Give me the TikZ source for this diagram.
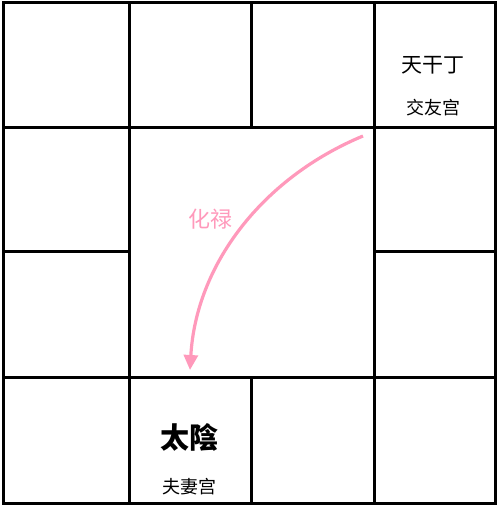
\documentclass[tikz,border=0pt]{standalone}
\usepackage{fontspec}
\newfontfamily\cjk{Noto Sans CJK SC}
\usetikzlibrary{arrows.meta}
\definecolor{lupink}{HTML}{FF99BB}
\tikzset{
  grid/.style={line width=3pt, line cap=rect},
  bigtxt/.style={font=\cjk\fontsize{21}{23}\selectfont, inner sep=0pt},
  smalltxt/.style={font=\cjk\fontsize{18}{20}\selectfont, inner sep=0pt},
  startxt/.style={font=\cjk\bfseries\fontsize{29}{31}\selectfont, inner sep=0pt},
  pinktxt/.style={font=\cjk\fontsize{22}{24}\selectfont, text=lupink, inner sep=0pt},
  huaarrow/.style={draw=lupink, line width=3.2pt, -{Triangle[length=15pt,width=14pt]}}
}
\begin{document}
\begin{tikzpicture}[x=1pt,y=-1pt]
\useasboundingbox (0,0) rectangle (499,506);
% outer frame
\draw[grid] (3,2) rectangle (495,503);
% full horizontal lines
\draw[grid] (3,127) -- (495,127);
\draw[grid] (3,377) -- (495,377);
% full vertical lines
\draw[grid] (129,2) -- (129,503);
\draw[grid] (374,2) -- (374,503);
% partial lines (outside the center)
\draw[grid] (251,2) -- (251,127);
\draw[grid] (251,377) -- (251,503);
\draw[grid] (3,251) -- (129,251);
\draw[grid] (374,251) -- (495,251);
% texts
\node[bigtxt] (tgd) at (433,65) {天干丁};
\node[smalltxt] (jyg) at (433,108) {交友宫};
\node[startxt] (ty) at (189,437) {太陰};
\node[smalltxt] (fqg) at (189,487) {夫妻宫};
\node[pinktxt] (hl) at (210,219) {化禄};
% arrow
\coordinate (from) at (363,136);
\coordinate (to) at (190,370);
\draw[huaarrow] (from) .. controls (262,178) and (196,265) .. (to);
\end{tikzpicture}
\end{document}
